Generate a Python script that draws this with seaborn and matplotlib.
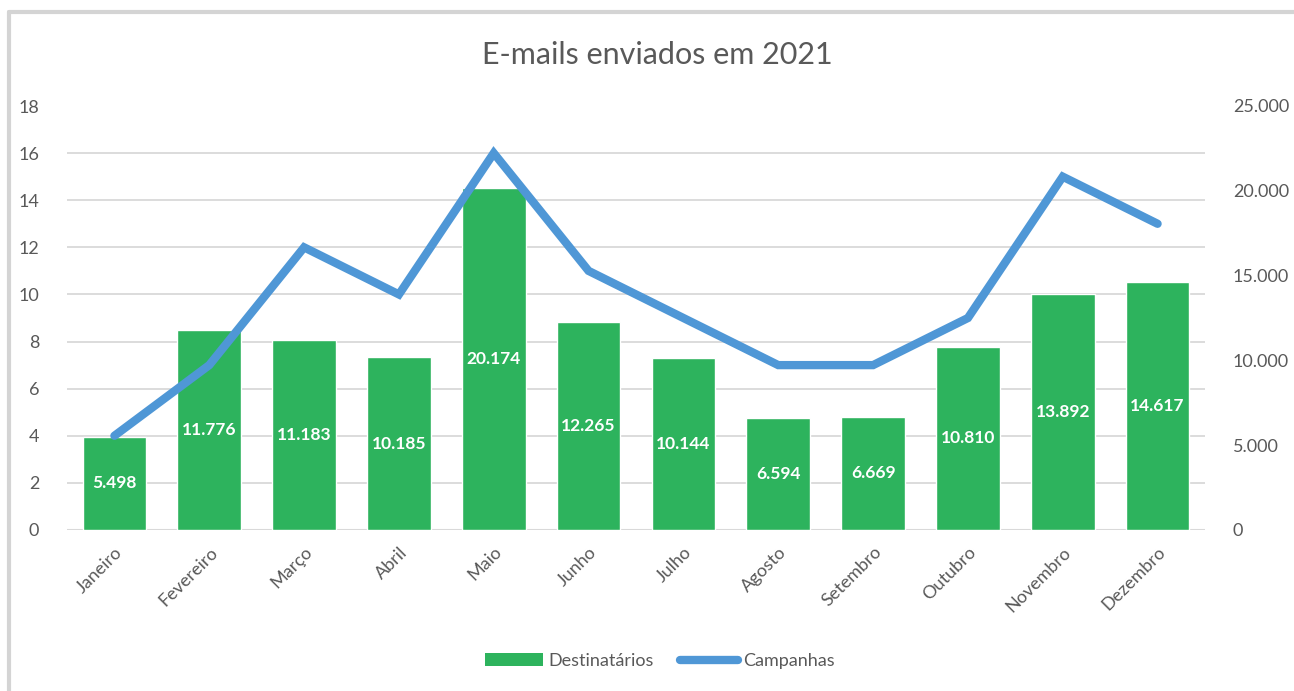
import pandas as pd
import seaborn as sns
import matplotlib.pyplot as plt
import numpy as np
from matplotlib.patches import Patch
from matplotlib.lines import Line2D

# Data
meses = ["Janeiro", "Fevereiro", "Março", "Abril", "Maio", "Junho",
         "Julho", "Agosto", "Setembro", "Outubro", "Novembro", "Dezembro"]
destinatarios = [5498, 11776, 11183, 10185, 20174, 12265,
                 10144, 6594, 6669, 10810, 13892, 14617]
campanhas = [4, 7, 12, 10, 16, 11, 9, 7, 7, 9, 15, 13]

df = pd.DataFrame({"mes": meses, "dest": destinatarios, "camp": campanhas})

sns.set_theme(style="white")
plt.rcParams["font.family"] = ["Lato", "DejaVu Sans"]

verde = "#2db35d"
azul = "#4f97d6"
cinza = "#595959"

fig = plt.figure(figsize=(12.94, 6.91), dpi=100)
ax = fig.add_axes([67 / 1294, 161 / 691, 1138 / 1294, 424 / 691])

# Bars (right-hand scale)
sns.barplot(data=df, x="mes", y="dest", color=verde, width=0.67,
            saturation=1, ax=ax, zorder=2)
ax.set_ylim(0, 25000)
ax.set_xlim(-0.5, 11.5)
ax.set_yticks(np.arange(0, 25001, 5000))
ax.set_yticklabels(["0", "5.000", "10.000", "15.000", "20.000", "25.000"])
# gridlines follow the left scale (0..18 step 2)
ax.set_yticks(np.linspace(0, 25000, 10), minor=True)
ax.grid(which="minor", axis="y", color="#d9d9d9", linewidth=1.3, zorder=0)
ax.set_axisbelow(True)
ax.set_xlabel("")
ax.set_ylabel("")

for i, v in enumerate(destinatarios):
    ax.text(i, v / 2, f"{v:,}".replace(",", "."), ha="center", va="center",
            color="white", fontsize=12.5, fontweight="bold", zorder=5)

# Line (left-hand scale)
ax2 = ax.twinx()
sns.lineplot(x=np.arange(len(meses)), y=campanhas, color=azul, linewidth=6,
             ax=ax2, solid_joinstyle="miter", solid_capstyle="round")
ax2.set_ylim(0, 18)
ax2.set_yticks(np.arange(0, 19, 2))
ax2.set_ylabel("")

# swap sides: line scale on the left, bar scale on the right
ax.yaxis.tick_right()
ax2.yaxis.tick_left()

for a in (ax, ax2):
    for s in a.spines.values():
        s.set_visible(False)
    a.tick_params(axis="both", which="both", length=0, labelsize=13,
                  labelcolor=cinza)
ax2.tick_params(axis="y", pad=20)
ax.tick_params(axis="y", pad=20)
ax.axhline(0, color="#d9d9d9", linewidth=1.5, zorder=1)

ax.set_xticks(np.arange(len(meses)))
ax.set_xticklabels(meses, rotation=45, ha="right", rotation_mode="anchor")
ax.tick_params(axis="x", pad=10)

fig.text(657 / 1294, 1 - 55 / 691, "E-mails enviados em 2021", ha="center",
         va="center", fontsize=22, color=cinza)

handles = [Patch(facecolor=verde, edgecolor="none"),
           Line2D([], [], color=azul, linewidth=6, solid_capstyle="round")]
fig.legend(handles, ["Destinatários", "Campanhas"], loc="center",
           bbox_to_anchor=(660 / 1294, 1 - 661 / 691), ncol=2, frameon=False,
           fontsize=13, labelcolor=cinza, handlelength=3.2, handletextpad=0.3,
           columnspacing=1.5)

# outer chart border (top and left visible)
fig.add_artist(Line2D([9 / 1294, 1], [1 - 12 / 691, 1 - 12 / 691],
                      transform=fig.transFigure, color="#d4d4d4", linewidth=3))
fig.add_artist(Line2D([9 / 1294, 9 / 1294], [0, 1 - 12 / 691],
                      transform=fig.transFigure, color="#d4d4d4", linewidth=3))

plt.savefig("out.png", dpi=100)
